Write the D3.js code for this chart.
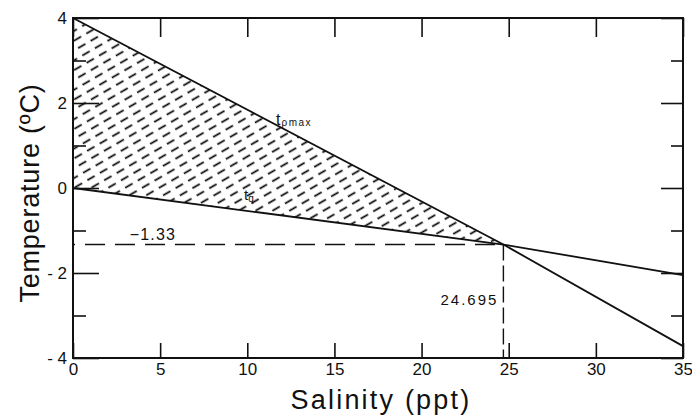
<!DOCTYPE html>
<html>
<head>
<meta charset="utf-8">
<script src="https://cdn.jsdelivr.net/npm/d3@7"></script>
<style>
  html, body { margin: 0; padding: 0; background: #fff; }
  svg { display: block; }
  text { fill: #111; }
</style>
</head>
<body>
<svg id="chart" width="692" height="417"></svg>
<script>
// Salinity (ppt) at the start, crossing point and end of each curve
const salinity = [0, 24.695, 35];
// Temperature of maximum density (°C)
const tMaxDensity = [4, -1.33, -3.72];
// Freezing temperature (°C)
const tFreezing = [0, -1.33, -2.05];

const crossSalinity = 24.695;
const crossTemp = -1.33;

const xTicks = [0, 5, 10, 15, 20, 25, 30, 35];
const yMajorTicks = [-4, -2, 0, 2, 4];
const yMinorTicks = [-3, -1, 1, 3];

const svg = d3.select("#chart");
const plotLeft = 73, plotRight = 683, plotTop = 18, plotBottom = 358;

const x = d3.scaleLinear().domain([0, 35]).range([plotLeft, plotRight]);
const y = d3.scaleLinear().domain([-4, 4]).range([plotBottom, plotTop]);

const font = "'Liberation Sans', Arial, sans-serif";

// Hatch pattern: dashed diagonal strokes
const defs = svg.append("defs");
const pat = defs.append("pattern")
  .attr("id", "hatch")
  .attr("patternUnits", "userSpaceOnUse")
  .attr("width", 14.5).attr("height", 8.5)
  .attr("patternTransform", "rotate(-30)");
pat.append("line")
  .attr("x1", 0).attr("y1", 4.25).attr("x2", 8.5).attr("y2", 4.25)
  .attr("stroke", "#000").attr("stroke-width", 1.7);

// Shaded region between the two curves, up to where they cross
const region = [
  [salinity[0], tMaxDensity[0]],
  [salinity[1], tMaxDensity[1]],
  [salinity[0], tFreezing[0]]
];
svg.append("path")
  .attr("d", d3.line().x(d => x(d[0])).y(d => y(d[1]))(region) + "Z")
  .attr("fill", "url(#hatch)")
  .attr("stroke", "none");

// Axes: ticks point into the plot
const gAxes = svg.append("g").attr("class", "axes");

gAxes.append("g")
  .attr("transform", `translate(0,${plotBottom})`)
  .call(d3.axisBottom(x).tickValues(xTicks).tickSize(-15).tickPadding(5)
    .tickFormat(d3.format("d")));

gAxes.append("g")
  .attr("transform", `translate(0,${plotTop})`)
  .call(d3.axisTop(x).tickValues(xTicks).tickSize(-19).tickFormat(""));

gAxes.append("g")
  .attr("transform", `translate(${plotLeft},0)`)
  .call(d3.axisLeft(y).tickValues(yMajorTicks).tickSize(-26).tickPadding(6)
    .tickFormat(d => d < 0 ? "- " + Math.abs(d) : String(d)));

gAxes.append("g")
  .attr("transform", `translate(${plotLeft},0)`)
  .call(d3.axisLeft(y).tickValues(yMinorTicks).tickSize(-13).tickFormat(""));

gAxes.append("g")
  .attr("transform", `translate(${plotRight},0)`)
  .call(d3.axisRight(y).tickValues(yMajorTicks).tickSize(-22).tickFormat(""));

gAxes.append("g")
  .attr("transform", `translate(${plotRight},0)`)
  .call(d3.axisRight(y).tickValues(yMinorTicks).tickSize(-12).tickFormat(""));

gAxes.selectAll(".domain").remove();
gAxes.selectAll(".tick line").attr("stroke", "#111").attr("stroke-width", 1.6);
gAxes.selectAll(".tick text")
  .attr("font-family", font).attr("font-size", 17).attr("fill", "#111");

// Frame
svg.append("rect")
  .attr("x", plotLeft).attr("y", plotTop)
  .attr("width", plotRight - plotLeft).attr("height", plotBottom - plotTop)
  .attr("fill", "none").attr("stroke", "#111").attr("stroke-width", 2);

// Curves
const line = d3.line().x(d => x(d[0])).y(d => y(d[1]));
svg.append("path")
  .datum(salinity.map((s, i) => [s, tMaxDensity[i]]))
  .attr("d", line)
  .attr("fill", "none").attr("stroke", "#111").attr("stroke-width", 1.8);
svg.append("path")
  .datum(salinity.map((s, i) => [s, tFreezing[i]]))
  .attr("d", line)
  .attr("fill", "none").attr("stroke", "#111").attr("stroke-width", 1.8);

// Dashed guides to the crossing point
svg.append("line")
  .attr("x1", x(0)).attr("y1", y(crossTemp))
  .attr("x2", x(crossSalinity)).attr("y2", y(crossTemp))
  .attr("stroke", "#111").attr("stroke-width", 1.4)
  .attr("stroke-dasharray", "20,10").attr("stroke-dashoffset", -12);
svg.append("line")
  .attr("x1", x(crossSalinity)).attr("y1", y(crossTemp))
  .attr("x2", x(crossSalinity)).attr("y2", y(-4))
  .attr("stroke", "#111").attr("stroke-width", 1.4)
  .attr("stroke-dasharray", "16,5");

// Value labels
svg.append("text")
  .attr("x", x(3.25)).attr("y", y(crossTemp) - 5)
  .attr("font-family", font).attr("font-size", 16)
  .attr("letter-spacing", 1.2)
  .text(d3.format(".2f")(crossTemp));
svg.append("text")
  .attr("x", x(crossSalinity) - 5).attr("y", 305)
  .attr("text-anchor", "end")
  .attr("font-family", font).attr("font-size", 15)
  .attr("letter-spacing", 2)
  .text(d3.format(".3f")(crossSalinity));

// Curve labels
const lblMax = svg.append("text")
  .attr("x", 276).attr("y", 125)
  .attr("font-family", font).attr("font-size", 16);
lblMax.append("tspan").text("t");
lblMax.append("tspan").attr("dy", 1).attr("dx", 1)
  .attr("font-size", 10).attr("letter-spacing", 1.5).text("ρmax");

const lblFr = svg.append("text")
  .attr("x", 244).attr("y", 200)
  .attr("font-family", font).attr("font-size", 15);
lblFr.append("tspan").text("t");
lblFr.append("tspan").attr("dy", 2)
  .attr("font-size", 10).text("q");

// Axis titles
svg.append("text")
  .attr("x", (plotLeft + plotRight) / 2 + 3).attr("y", 409)
  .attr("text-anchor", "middle")
  .attr("font-family", font).attr("font-size", 27)
  .attr("letter-spacing", 2.2)
  .text("Salinity (ppt)");
svg.append("text")
  .attr("transform", `translate(39,${(plotTop + plotBottom) / 2 + 5}) rotate(-90)`)
  .attr("text-anchor", "middle")
  .attr("font-family", font).attr("font-size", 27)
  .attr("letter-spacing", 0.8)
  .text("Temperature (ºC)");
</script>
</body>
</html>
